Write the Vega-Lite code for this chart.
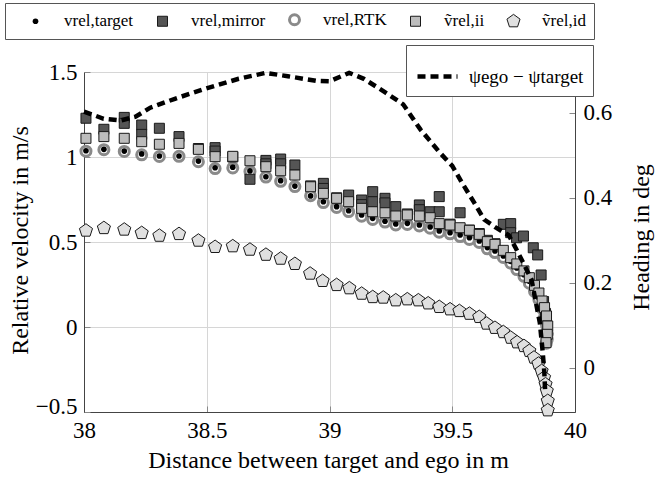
{
  "$schema": "https://vega.github.io/schema/vega-lite/v6.json",
  "width": 491,
  "height": 340,
  "autosize": {"type": "none"},
  "padding": {"left": 84, "top": 72, "right": 83, "bottom": 65},
  "background": "white",
  "config": {
    "font": "Liberation Serif, Times New Roman, Times, serif",
    "view": {"stroke": null},
    "axis": {
      "labelFont": "Liberation Serif, Times New Roman, Times, serif",
      "titleFont": "Liberation Serif, Times New Roman, Times, serif",
      "labelFontSize": 23,
      "titleFontSize": 24,
      "titleFontWeight": "normal",
      "labelColor": "black",
      "titleColor": "black",
      "domainColor": "#444444",
      "tickColor": "#888888",
      "gridColor": "#d6d6d6",
      "labelFlush": false,
      "labelOverlap": false,
      "format": "~g"
    },
    "legend": {"labelFont": "Liberation Serif, Times New Roman, Times, serif", "labelColor": "black"}
  },
  "layer": [
    {
      "data": {
        "values": [
          {"s": "vrel,RTK", "x": 38.008, "v": 1.034}, {"s": "vrel,RTK", "x": 38.081, "v": 1.043}, {"s": "vrel,RTK", "x": 38.164, "v": 1.033}, {"s": "vrel,RTK", "x": 38.235, "v": 1.013}, {"s": "vrel,RTK", "x": 38.307, "v": 1.003}, {"s": "vrel,RTK", "x": 38.387, "v": 1.004}, {"s": "vrel,RTK", "x": 38.466, "v": 0.972}, {"s": "vrel,RTK", "x": 38.534, "v": 0.932}, {"s": "vrel,RTK", "x": 38.606, "v": 0.936}, {"s": "vrel,RTK", "x": 38.676, "v": 0.915}, {"s": "vrel,RTK", "x": 38.741, "v": 0.882}, {"s": "vrel,RTK", "x": 38.801, "v": 0.857}, {"s": "vrel,RTK", "x": 38.859, "v": 0.826}, {"s": "vrel,RTK", "x": 38.923, "v": 0.772}, {"s": "vrel,RTK", "x": 38.975, "v": 0.732}, {"s": "vrel,RTK", "x": 39.029, "v": 0.703}, {"s": "vrel,RTK", "x": 39.078, "v": 0.679}, {"s": "vrel,RTK", "x": 39.131, "v": 0.652}, {"s": "vrel,RTK", "x": 39.176, "v": 0.633}, {"s": "vrel,RTK", "x": 39.226, "v": 0.617}, {"s": "vrel,RTK", "x": 39.27, "v": 0.6}, {"s": "vrel,RTK", "x": 39.317, "v": 0.603}, {"s": "vrel,RTK", "x": 39.366, "v": 0.594}, {"s": "vrel,RTK", "x": 39.41, "v": 0.581}, {"s": "vrel,RTK", "x": 39.447, "v": 0.558}, {"s": "vrel,RTK", "x": 39.491, "v": 0.548}, {"s": "vrel,RTK", "x": 39.532, "v": 0.532}, {"s": "vrel,RTK", "x": 39.57, "v": 0.515}, {"s": "vrel,RTK", "x": 39.61, "v": 0.497}, {"s": "vrel,RTK", "x": 39.643, "v": 0.46}, {"s": "vrel,RTK", "x": 39.674, "v": 0.438}, {"s": "vrel,RTK", "x": 39.708, "v": 0.409}, {"s": "vrel,RTK", "x": 39.738, "v": 0.376}, {"s": "vrel,RTK", "x": 39.763, "v": 0.338}, {"s": "vrel,RTK", "x": 39.792, "v": 0.298}, {"s": "vrel,RTK", "x": 39.814, "v": 0.258}, {"s": "vrel,RTK", "x": 39.835, "v": 0.21}, {"s": "vrel,RTK", "x": 39.853, "v": 0.16}, {"s": "vrel,RTK", "x": 39.866, "v": 0.11}, {"s": "vrel,RTK", "x": 39.876, "v": 0.06}, {"s": "vrel,RTK", "x": 39.884, "v": 0.01}, {"s": "vrel,RTK", "x": 39.888, "v": -0.04}, {"s": "vrel,RTK", "x": 39.887, "v": -0.072}, {"s": "vrel,RTK", "x": 39.883, "v": -0.095},

          {"s": "vrel,target", "x": 38.008, "v": 1.037}, {"s": "vrel,target", "x": 38.081, "v": 1.045}, {"s": "vrel,target", "x": 38.164, "v": 1.035}, {"s": "vrel,target", "x": 38.235, "v": 1.018}, {"s": "vrel,target", "x": 38.307, "v": 1.006}, {"s": "vrel,target", "x": 38.387, "v": 1.006}, {"s": "vrel,target", "x": 38.466, "v": 0.976}, {"s": "vrel,target", "x": 38.534, "v": 0.937}, {"s": "vrel,target", "x": 38.606, "v": 0.94}, {"s": "vrel,target", "x": 38.676, "v": 0.918}, {"s": "vrel,target", "x": 38.741, "v": 0.884}, {"s": "vrel,target", "x": 38.801, "v": 0.861}, {"s": "vrel,target", "x": 38.859, "v": 0.829}, {"s": "vrel,target", "x": 38.923, "v": 0.771}, {"s": "vrel,target", "x": 38.975, "v": 0.737}, {"s": "vrel,target", "x": 39.029, "v": 0.708}, {"s": "vrel,target", "x": 39.078, "v": 0.684}, {"s": "vrel,target", "x": 39.131, "v": 0.659}, {"s": "vrel,target", "x": 39.176, "v": 0.639}, {"s": "vrel,target", "x": 39.226, "v": 0.622}, {"s": "vrel,target", "x": 39.27, "v": 0.606}, {"s": "vrel,target", "x": 39.317, "v": 0.61}, {"s": "vrel,target", "x": 39.366, "v": 0.6}, {"s": "vrel,target", "x": 39.41, "v": 0.588}, {"s": "vrel,target", "x": 39.447, "v": 0.565}, {"s": "vrel,target", "x": 39.491, "v": 0.555}, {"s": "vrel,target", "x": 39.532, "v": 0.541}, {"s": "vrel,target", "x": 39.57, "v": 0.525}, {"s": "vrel,target", "x": 39.61, "v": 0.506}, {"s": "vrel,target", "x": 39.643, "v": 0.467}, {"s": "vrel,target", "x": 39.674, "v": 0.447}, {"s": "vrel,target", "x": 39.708, "v": 0.418}, {"s": "vrel,target", "x": 39.738, "v": 0.386}, {"s": "vrel,target", "x": 39.763, "v": 0.347}, {"s": "vrel,target", "x": 39.792, "v": 0.308}, {"s": "vrel,target", "x": 39.814, "v": 0.269}, {"s": "vrel,target", "x": 39.835, "v": 0.22}, {"s": "vrel,target", "x": 39.853, "v": 0.171}, {"s": "vrel,target", "x": 39.866, "v": 0.12}, {"s": "vrel,target", "x": 39.876, "v": 0.07}, {"s": "vrel,target", "x": 39.884, "v": 0.02}, {"s": "vrel,target", "x": 39.888, "v": -0.03}, {"s": "vrel,target", "x": 39.887, "v": -0.065}, {"s": "vrel,target", "x": 39.883, "v": -0.09},

          {"s": "vrel,mirror", "x": 38.008, "v": 1.228}, {"s": "vrel,mirror", "x": 38.081, "v": 1.163}, {"s": "vrel,mirror", "x": 38.164, "v": 1.233}, {"s": "vrel,mirror", "x": 38.164, "v": 1.198}, {"s": "vrel,mirror", "x": 38.235, "v": 1.188}, {"s": "vrel,mirror", "x": 38.235, "v": 1.133}, {"s": "vrel,mirror", "x": 38.307, "v": 1.169}, {"s": "vrel,mirror", "x": 38.387, "v": 1.12}, {"s": "vrel,mirror", "x": 38.466, "v": 1.05}, {"s": "vrel,mirror", "x": 38.534, "v": 1.055}, {"s": "vrel,mirror", "x": 38.534, "v": 1.035}, {"s": "vrel,mirror", "x": 38.606, "v": 1.0}, {"s": "vrel,mirror", "x": 38.676, "v": 0.869}, {"s": "vrel,mirror", "x": 38.741, "v": 0.98}, {"s": "vrel,mirror", "x": 38.741, "v": 0.96}, {"s": "vrel,mirror", "x": 38.801, "v": 0.988}, {"s": "vrel,mirror", "x": 38.801, "v": 0.96}, {"s": "vrel,mirror", "x": 38.859, "v": 0.953}, {"s": "vrel,mirror", "x": 38.923, "v": 0.83}, {"s": "vrel,mirror", "x": 38.975, "v": 0.845}, {"s": "vrel,mirror", "x": 38.975, "v": 0.815}, {"s": "vrel,mirror", "x": 39.029, "v": 0.76}, {"s": "vrel,mirror", "x": 39.078, "v": 0.776}, {"s": "vrel,mirror", "x": 39.131, "v": 0.747}, {"s": "vrel,mirror", "x": 39.131, "v": 0.72}, {"s": "vrel,mirror", "x": 39.176, "v": 0.796}, {"s": "vrel,mirror", "x": 39.176, "v": 0.737}, {"s": "vrel,mirror", "x": 39.226, "v": 0.757}, {"s": "vrel,mirror", "x": 39.226, "v": 0.73}, {"s": "vrel,mirror", "x": 39.27, "v": 0.708}, {"s": "vrel,mirror", "x": 39.317, "v": 0.665}, {"s": "vrel,mirror", "x": 39.366, "v": 0.718}, {"s": "vrel,mirror", "x": 39.366, "v": 0.69}, {"s": "vrel,mirror", "x": 39.41, "v": 0.678}, {"s": "vrel,mirror", "x": 39.447, "v": 0.767}, {"s": "vrel,mirror", "x": 39.447, "v": 0.678}, {"s": "vrel,mirror", "x": 39.491, "v": 0.605}, {"s": "vrel,mirror", "x": 39.532, "v": 0.672}, {"s": "vrel,mirror", "x": 39.57, "v": 0.57}, {"s": "vrel,mirror", "x": 39.61, "v": 0.55}, {"s": "vrel,mirror", "x": 39.643, "v": 0.51}, {"s": "vrel,mirror", "x": 39.674, "v": 0.49}, {"s": "vrel,mirror", "x": 39.708, "v": 0.604}, {"s": "vrel,mirror", "x": 39.738, "v": 0.608}, {"s": "vrel,mirror", "x": 39.738, "v": 0.555}, {"s": "vrel,mirror", "x": 39.762, "v": 0.525}, {"s": "vrel,mirror", "x": 39.79, "v": 0.535}, {"s": "vrel,mirror", "x": 39.83, "v": 0.466}, {"s": "vrel,mirror", "x": 39.848, "v": 0.424}, {"s": "vrel,mirror", "x": 39.862, "v": 0.306}, {"s": "vrel,mirror", "x": 39.872, "v": 0.15}, {"s": "vrel,mirror", "x": 39.88, "v": 0.08},

          {"s": "ṽrel,ii", "x": 38.008, "v": 1.11}, {"s": "ṽrel,ii", "x": 38.081, "v": 1.12}, {"s": "ṽrel,ii", "x": 38.164, "v": 1.11}, {"s": "ṽrel,ii", "x": 38.235, "v": 1.09}, {"s": "ṽrel,ii", "x": 38.307, "v": 1.075}, {"s": "ṽrel,ii", "x": 38.387, "v": 1.08}, {"s": "ṽrel,ii", "x": 38.466, "v": 1.045}, {"s": "ṽrel,ii", "x": 38.534, "v": 1.002}, {"s": "ṽrel,ii", "x": 38.606, "v": 1.004}, {"s": "ṽrel,ii", "x": 38.676, "v": 0.978}, {"s": "ṽrel,ii", "x": 38.741, "v": 0.943}, {"s": "ṽrel,ii", "x": 38.801, "v": 0.919}, {"s": "ṽrel,ii", "x": 38.859, "v": 0.894}, {"s": "ṽrel,ii", "x": 38.923, "v": 0.825}, {"s": "ṽrel,ii", "x": 38.975, "v": 0.786}, {"s": "ṽrel,ii", "x": 39.029, "v": 0.757}, {"s": "ṽrel,ii", "x": 39.078, "v": 0.737}, {"s": "ṽrel,ii", "x": 39.131, "v": 0.698}, {"s": "ṽrel,ii", "x": 39.176, "v": 0.678}, {"s": "ṽrel,ii", "x": 39.226, "v": 0.672}, {"s": "ṽrel,ii", "x": 39.27, "v": 0.653}, {"s": "ṽrel,ii", "x": 39.317, "v": 0.659}, {"s": "ṽrel,ii", "x": 39.366, "v": 0.653}, {"s": "ṽrel,ii", "x": 39.41, "v": 0.643}, {"s": "ṽrel,ii", "x": 39.447, "v": 0.608}, {"s": "ṽrel,ii", "x": 39.491, "v": 0.6}, {"s": "ṽrel,ii", "x": 39.532, "v": 0.584}, {"s": "ṽrel,ii", "x": 39.57, "v": 0.569}, {"s": "ṽrel,ii", "x": 39.61, "v": 0.545}, {"s": "ṽrel,ii", "x": 39.643, "v": 0.502}, {"s": "ṽrel,ii", "x": 39.674, "v": 0.486}, {"s": "ṽrel,ii", "x": 39.708, "v": 0.451}, {"s": "ṽrel,ii", "x": 39.738, "v": 0.408}, {"s": "ṽrel,ii", "x": 39.763, "v": 0.371}, {"s": "ṽrel,ii", "x": 39.792, "v": 0.33}, {"s": "ṽrel,ii", "x": 39.814, "v": 0.29}, {"s": "ṽrel,ii", "x": 39.835, "v": 0.245}, {"s": "ṽrel,ii", "x": 39.853, "v": 0.2}, {"s": "ṽrel,ii", "x": 39.866, "v": 0.153}, {"s": "ṽrel,ii", "x": 39.876, "v": 0.114}, {"s": "ṽrel,ii", "x": 39.884, "v": 0.065}, {"s": "ṽrel,ii", "x": 39.889, "v": 0.006}, {"s": "ṽrel,ii", "x": 39.887, "v": -0.043}, {"s": "ṽrel,ii", "x": 39.882, "v": -0.092},

          {"s": "ṽrel,id", "x": 38.008, "v": 0.567}, {"s": "ṽrel,id", "x": 38.081, "v": 0.582}, {"s": "ṽrel,id", "x": 38.164, "v": 0.573}, {"s": "ṽrel,id", "x": 38.235, "v": 0.553}, {"s": "ṽrel,id", "x": 38.307, "v": 0.537}, {"s": "ṽrel,id", "x": 38.387, "v": 0.547}, {"s": "ṽrel,id", "x": 38.466, "v": 0.508}, {"s": "ṽrel,id", "x": 38.534, "v": 0.471}, {"s": "ṽrel,id", "x": 38.606, "v": 0.475}, {"s": "ṽrel,id", "x": 38.676, "v": 0.455}, {"s": "ṽrel,id", "x": 38.741, "v": 0.425}, {"s": "ṽrel,id", "x": 38.801, "v": 0.402}, {"s": "ṽrel,id", "x": 38.859, "v": 0.371}, {"s": "ṽrel,id", "x": 38.921, "v": 0.314}, {"s": "ṽrel,id", "x": 38.972, "v": 0.271}, {"s": "ṽrel,id", "x": 39.029, "v": 0.247}, {"s": "ṽrel,id", "x": 39.081, "v": 0.228}, {"s": "ṽrel,id", "x": 39.131, "v": 0.196}, {"s": "ṽrel,id", "x": 39.176, "v": 0.176}, {"s": "ṽrel,id", "x": 39.219, "v": 0.173}, {"s": "ṽrel,id", "x": 39.27, "v": 0.157}, {"s": "ṽrel,id", "x": 39.317, "v": 0.163}, {"s": "ṽrel,id", "x": 39.362, "v": 0.157}, {"s": "ṽrel,id", "x": 39.402, "v": 0.139}, {"s": "ṽrel,id", "x": 39.447, "v": 0.118}, {"s": "ṽrel,id", "x": 39.491, "v": 0.104}, {"s": "ṽrel,id", "x": 39.529, "v": 0.094}, {"s": "ṽrel,id", "x": 39.57, "v": 0.078}, {"s": "ṽrel,id", "x": 39.61, "v": 0.059}, {"s": "ṽrel,id", "x": 39.64, "v": 0.02}, {"s": "ṽrel,id", "x": 39.674, "v": -0.005}, {"s": "ṽrel,id", "x": 39.708, "v": -0.03}, {"s": "ṽrel,id", "x": 39.738, "v": -0.063}, {"s": "ṽrel,id", "x": 39.764, "v": -0.09}, {"s": "ṽrel,id", "x": 39.792, "v": -0.112}, {"s": "ṽrel,id", "x": 39.814, "v": -0.141}, {"s": "ṽrel,id", "x": 39.833, "v": -0.18}, {"s": "ṽrel,id", "x": 39.851, "v": -0.216}, {"s": "ṽrel,id", "x": 39.864, "v": -0.259}, {"s": "ṽrel,id", "x": 39.874, "v": -0.298}, {"s": "ṽrel,id", "x": 39.88, "v": -0.337}, {"s": "ṽrel,id", "x": 39.885, "v": -0.376}, {"s": "ṽrel,id", "x": 39.889, "v": -0.435}, {"s": "ṽrel,id", "x": 39.889, "v": -0.49}
        ]
      },
      "mark": {"type": "point", "filled": true, "opacity": 1},
      "encoding": {
        "x": {
          "field": "x", "type": "quantitative",
          "scale": {"domain": [38, 40], "nice": false, "zero": false},
          "axis": {"values": [38, 38.5, 39, 39.5, 40], "title": "Distance between target and ego in m", "grid": true, "tickSize": -6, "labelPadding": 13, "titleX": 244, "titleY": 48, "titleBaseline": "middle"}
        },
        "y": {
          "field": "v", "type": "quantitative",
          "scale": {"domain": [-0.5, 1.5], "nice": false, "zero": false},
          "axis": {"values": [-0.5, 0, 0.5, 1, 1.5], "title": "Relative velocity in m/s", "grid": true, "tickSize": -6, "labelPadding": 13, "labelOffset": {"condition": {"test": "datum.value < -0.4", "value": -6}, "value": 0}, "titleX": -64, "titleY": 168, "titleBaseline": "middle", "titleAngle": -90}
        },
        "fill": {
          "field": "s", "type": "nominal",
          "scale": {"domain": ["vrel,target", "vrel,mirror", "vrel,RTK", "ṽrel,ii", "ṽrel,id"], "range": ["#000000", "#555555", "#ffffff", "#bdbdbd", "#e0e0e0"]},
          "legend": {"orient": "none", "legendX": -79, "legendY": -69, "direction": "horizontal", "title": null, "strokeColor": "#555555", "fillColor": "white", "padding": 8, "symbolOffset": 14, "columnPadding": 6, "labelOffset": 20, "labelFontSize": 17}
        },
        "stroke": {
          "field": "s", "type": "nominal",
          "scale": {"domain": ["vrel,target", "vrel,mirror", "vrel,RTK", "ṽrel,ii", "ṽrel,id"], "range": ["#000000", "#1a1a1a", "#8a8a8a", "#1a1a1a", "#1a1a1a"]}
        },
        "shape": {
          "field": "s", "type": "nominal",
          "scale": {"domain": ["vrel,target", "vrel,mirror", "vrel,RTK", "ṽrel,ii", "ṽrel,id"], "range": ["circle", "square", "circle", "square", "M0,-1L0.951,-0.309L0.588,0.809L-0.588,0.809L-0.951,-0.309Z"]}
        },
        "size": {
          "field": "s", "type": "nominal",
          "scale": {"type": "ordinal", "domain": ["vrel,target", "vrel,mirror", "vrel,RTK", "ṽrel,ii", "ṽrel,id"], "range": [32, 100, 100, 100, 190]}
        },
        "strokeWidth": {
          "field": "s", "type": "nominal",
          "scale": {"type": "ordinal", "domain": ["vrel,target", "vrel,mirror", "vrel,RTK", "ṽrel,ii", "ṽrel,id"], "range": [0, 1, 3, 1, 1]}
        }
      }
    },
    {
      "data": {
        "values": [
          {"k": "ψego − ψtarget", "x": 38.0, "h": 0.603}, {"k": "ψego − ψtarget", "x": 38.08, "h": 0.586}, {"k": "ψego − ψtarget", "x": 38.15, "h": 0.582}, {"k": "ψego − ψtarget", "x": 38.21, "h": 0.591}, {"k": "ψego − ψtarget", "x": 38.27, "h": 0.612}, {"k": "ψego − ψtarget", "x": 38.37, "h": 0.633}, {"k": "ψego − ψtarget", "x": 38.49, "h": 0.656}, {"k": "ψego − ψtarget", "x": 38.63, "h": 0.68}, {"k": "ψego − ψtarget", "x": 38.74, "h": 0.694}, {"k": "ψego − ψtarget", "x": 38.83, "h": 0.686}, {"k": "ψego − ψtarget", "x": 38.95, "h": 0.675}, {"k": "ψego − ψtarget", "x": 39.0, "h": 0.674}, {"k": "ψego − ψtarget", "x": 39.08, "h": 0.694}, {"k": "ψego − ψtarget", "x": 39.14, "h": 0.68}, {"k": "ψego − ψtarget", "x": 39.23, "h": 0.647}, {"k": "ψego − ψtarget", "x": 39.3, "h": 0.62}, {"k": "ψego − ψtarget", "x": 39.37, "h": 0.561}, {"k": "ψego − ψtarget", "x": 39.45, "h": 0.506}, {"k": "ψego − ψtarget", "x": 39.5, "h": 0.475}, {"k": "ψego − ψtarget", "x": 39.54, "h": 0.435}, {"k": "ψego − ψtarget", "x": 39.59, "h": 0.388}, {"k": "ψego − ψtarget", "x": 39.63, "h": 0.349}, {"k": "ψego − ψtarget", "x": 39.68, "h": 0.329}, {"k": "ψego − ψtarget", "x": 39.73, "h": 0.312}, {"k": "ψego − ψtarget", "x": 39.76, "h": 0.28}, {"k": "ψego − ψtarget", "x": 39.79, "h": 0.246}, {"k": "ψego − ψtarget", "x": 39.823, "h": 0.207}, {"k": "ψego − ψtarget", "x": 39.844, "h": 0.144}, {"k": "ψego − ψtarget", "x": 39.857, "h": 0.105}, {"k": "ψego − ψtarget", "x": 39.868, "h": 0.04}, {"k": "ψego − ψtarget", "x": 39.875, "h": -0.01}, {"k": "ψego − ψtarget", "x": 39.878, "h": -0.05}
        ]
      },
      "mark": {"type": "line", "color": "black", "strokeWidth": 4.5, "strokeCap": "butt"},
      "encoding": {
        "x": {"field": "x", "type": "quantitative", "scale": {"domain": [38, 40], "nice": false, "zero": false}},
        "y": {
          "field": "h", "type": "quantitative",
          "scale": {"domain": [-0.104, 0.696], "nice": false, "zero": false},
          "axis": {"orient": "right", "values": [0, 0.2, 0.4, 0.6], "title": "Heading in deg", "grid": false, "tickSize": -6, "labelPadding": 14, "titleAngle": -90, "titleX": 66, "titleY": 165, "titleBaseline": "middle"}
        },
        "strokeDash": {
          "field": "k", "type": "nominal",
          "scale": {"range": [[8, 5]]},
          "legend": {"orient": "none", "legendX": 322, "legendY": -27, "title": null, "strokeColor": "#555555", "fillColor": "white", "padding": 9, "symbolType": "stroke", "symbolSize": 1600, "symbolStrokeWidth": 4.5, "symbolStrokeColor": "black", "labelOffset": 9, "labelFontSize": 19}
        }
      }
    }
  ],
  "resolve": {"scale": {"y": "independent"}}
}
